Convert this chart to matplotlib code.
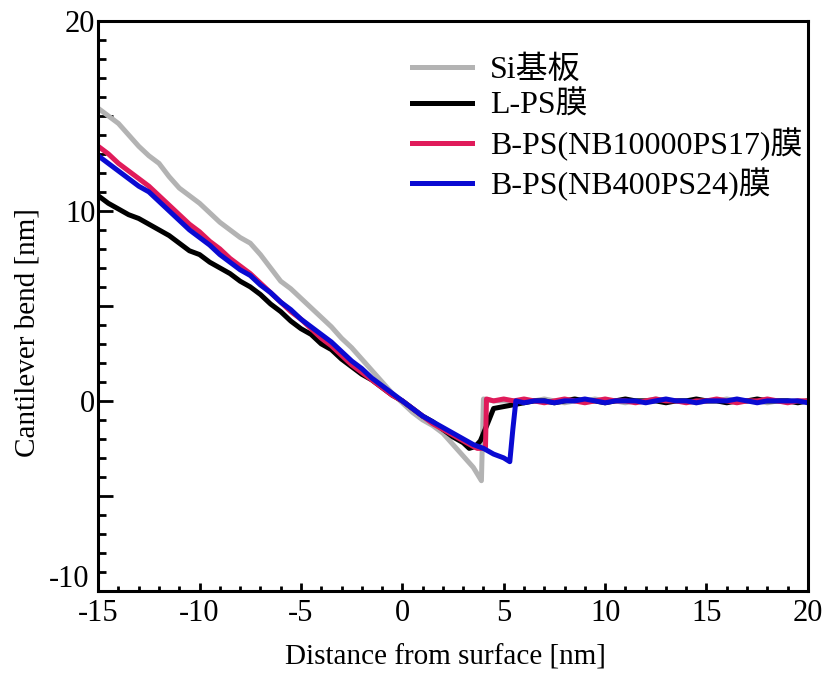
import matplotlib.pyplot as plt
from matplotlib.ticker import MultipleLocator, FuncFormatter

# font: Times-like serif, CJK fallback for the legend
plt.rcParams['font.family'] = ['Liberation Serif', 'Noto Sans CJK JP']
plt.rcParams['axes.unicode_minus'] = False

# shared flat tail after contact (x from 6 to 20)
tail_x = [6, 6.5, 7, 7.5, 8, 8.5, 9, 9.5, 10, 10.5, 11, 11.5, 12, 12.5, 13, 13.5,
          14, 14.5, 15, 15.5, 16, 16.5, 17, 17.5, 18, 18.5, 19, 19.5, 20]

# Si substrate
si_x = [-15, -14.5, -14, -13.5, -13, -12.5, -12, -11.5, -11, -10.5, -10, -9.5, -9, -8.5,
        -8, -7.5, -7, -6.5, -6, -5.5, -5, -4.5, -4, -3.5, -3, -2.5, -2, -1.5, -1, -0.5,
        0, 0.5, 1, 1.5, 2, 2.5, 3, 3.5, 3.9, 4.0, 4.5, 5, 5.5] + tail_x
si_y = [15.4, 15.0, 14.6, 14.0, 13.4, 12.9, 12.5, 11.8, 11.2, 10.8, 10.4, 9.9, 9.4, 9.0,
        8.6, 8.3, 7.7, 7.0, 6.3, 5.9, 5.4, 4.9, 4.4, 3.9, 3.3, 2.8, 2.2, 1.6, 1.0, 0.4,
        -0.1, -0.6, -1.0, -1.3, -1.7, -2.3, -2.9, -3.5, -4.2, 0.1, 0.0, 0.0, 0.0,
        0.0, 0.0, 0.1, 0.0, -0.1, 0.0, 0.0, 0.1, 0.0, 0.0, -0.1, 0.0, 0.0, 0.1, 0.0,
        0.0, 0.0, -0.1, 0.0, 0.0, 0.1, 0.0, 0.0, 0.0, -0.1, 0.0, 0.0, 0.0, 0.0]

# L-PS film
lps_x = [-15, -14.5, -14, -13.5, -13, -12.5, -12, -11.5, -11, -10.5, -10, -9.5, -9, -8.5,
         -8, -7.5, -7, -6.5, -6, -5.5, -5, -4.5, -4, -3.5, -3, -2.5, -2, -1.5, -1, -0.5,
         0, 0.5, 1, 1.5, 2, 2.5, 3, 3.3, 3.6, 3.85, 4.2, 4.5, 5, 5.5] + tail_x
lps_y = [10.8, 10.4, 10.1, 9.8, 9.6, 9.3, 9.0, 8.7, 8.3, 7.9, 7.7, 7.3, 7.0, 6.7,
         6.3, 6.0, 5.6, 5.1, 4.7, 4.2, 3.8, 3.5, 3.0, 2.7, 2.2, 1.8, 1.4, 1.1, 0.7, 0.3,
         0.0, -0.4, -0.8, -1.1, -1.5, -1.9, -2.2, -2.5, -2.4, -2.1, -1.2, -0.4, -0.3, -0.2,
         -0.1, 0.0, 0.0, -0.1, 0.0, 0.1, 0.0, 0.0, -0.1, 0.0, 0.1, 0.0, 0.0, 0.0, -0.1,
         0.0, 0.0, 0.1, 0.0, 0.0, -0.1, 0.0, 0.0, 0.1, 0.0, 0.0, 0.0, -0.1, 0.0]

# B-PS(NB10000PS17) film
bps1_x = [-15, -14.5, -14, -13.5, -13, -12.5, -12, -11.5, -11, -10.5, -10, -9.5, -9, -8.5,
          -8, -7.5, -7, -6.5, -6, -5.5, -5, -4.5, -4, -3.5, -3, -2.5, -2, -1.5, -1, -0.5,
          0, 0.5, 1, 1.5, 2, 2.5, 3, 3.5, 3.7, 4.1, 4.15, 4.5, 5, 5.5] + tail_x
bps1_y = [13.4, 13.0, 12.5, 12.1, 11.7, 11.3, 10.8, 10.3, 9.8, 9.3, 8.9, 8.4, 8.0, 7.5,
          7.1, 6.7, 6.2, 5.7, 5.2, 4.7, 4.3, 3.8, 3.3, 2.9, 2.4, 1.9, 1.5, 1.1, 0.7, 0.3,
          0.0, -0.4, -0.8, -1.2, -1.5, -1.8, -2.1, -2.4, -2.5, -2.5, 0.1, 0.0, 0.1, 0.0,
          0.1, 0.0, -0.1, 0.0, 0.1, 0.0, -0.1, 0.0, 0.1, 0.0, 0.0, -0.1, 0.0, 0.1, 0.0,
          0.0, -0.1, 0.0, 0.0, 0.1, 0.0, -0.1, 0.0, 0.0, 0.1, 0.0, -0.1, 0.0, 0.0]

# B-PS(NB400PS24) film
bps2_x = [-15, -14.5, -14, -13.5, -13, -12.5, -12, -11.5, -11, -10.5, -10, -9.5, -9, -8.5,
          -8, -7.5, -7, -6.5, -6, -5.5, -5, -4.5, -4, -3.5, -3, -2.5, -2, -1.5, -1, -0.5,
          0, 0.5, 1, 1.5, 2, 2.5, 3, 3.5, 4, 4.5, 5, 5.3, 5.45, 5.6] + tail_x
bps2_y = [12.9, 12.5, 12.1, 11.7, 11.3, 11.0, 10.5, 10.0, 9.5, 9.0, 8.6, 8.2, 7.7, 7.3,
          6.9, 6.6, 6.1, 5.7, 5.2, 4.8, 4.3, 3.9, 3.5, 3.1, 2.6, 2.1, 1.7, 1.2, 0.8, 0.4,
          0.0, -0.4, -0.8, -1.1, -1.4, -1.7, -2.0, -2.3, -2.5, -2.8, -3.0, -3.2, -1.5, 0.0,
          -0.1, 0.0, 0.0, -0.1, 0.0, 0.0, 0.1, 0.0, -0.1, 0.0, 0.0, 0.0, -0.1, 0.0, 0.1,
          0.0, 0.0, -0.1, 0.0, 0.0, 0.0, 0.1, 0.0, -0.1, 0.0, 0.0, 0.0, 0.0, -0.1]

labels = ['Si基板', 'L-PS膜', 'B-PS(NB10000PS17)膜', 'B-PS(NB400PS24)膜']
colors = ['#b3b3b3', '#000000', '#e01b5a', '#0a0ad2']

fig = plt.figure(figsize=(8.32, 6.73), dpi=100)
ax = fig.add_axes([0.118, 0.122, 0.853, 0.847])

for xs, ys, lab, col in zip([si_x, lps_x, bps1_x, bps2_x], [si_y, lps_y, bps1_y, bps2_y],
                            labels, colors):
    ax.plot(xs, ys, color=col, lw=3.6, label=lab, solid_joinstyle='round')

ax.set_xlim(-15, 20)
ax.set_ylim(-10, 20)

# ticks inward, major every 5, minor every 1
ax.xaxis.set_major_locator(MultipleLocator(5))
ax.xaxis.set_minor_locator(MultipleLocator(1))
ax.yaxis.set_major_locator(MultipleLocator(5))
ax.yaxis.set_minor_locator(MultipleLocator(1))
# y labels only every 10; the bottom one is drawn a little higher below
ax.yaxis.set_major_formatter(FuncFormatter(
    lambda v, p: '%d' % v if v % 10 == 0 and v > -10 else ''))
ax.xaxis.set_major_formatter(FuncFormatter(lambda v, p: '%d' % v))
ax.tick_params(axis='x', which='major', direction='in', length=6, width=2, labelsize=22, pad=6)
ax.tick_params(axis='x', which='minor', direction='in', length=3.5, width=2)
ax.tick_params(axis='y', which='major', direction='in', length=11, width=2, labelsize=22, pad=2)
ax.tick_params(axis='y', which='minor', direction='in', length=6, width=2)
ax.annotate('-10', xy=(0, -10), xycoords=ax.get_yaxis_transform(),
            xytext=(-6, 8), textcoords='offset points', ha='right', va='center', fontsize=22)

for s in ax.spines.values():
    s.set_linewidth(2.2)

ax.set_xlabel('Distance from surface [nm]', fontsize=21, va='center')
ax.xaxis.set_label_coords(0.489, -0.116)
ax.set_ylabel('Cantilever bend [nm]', fontsize=21, va='center')
ax.yaxis.set_label_coords(-0.099, 0.454)

ax.legend(loc='upper left', bbox_to_anchor=(0.41, 0.978), frameon=False, fontsize=23,
          handlelength=1.9, handletextpad=0.55, labelspacing=0.2, borderpad=0.2)

fig.savefig('out.png', dpi=100)
